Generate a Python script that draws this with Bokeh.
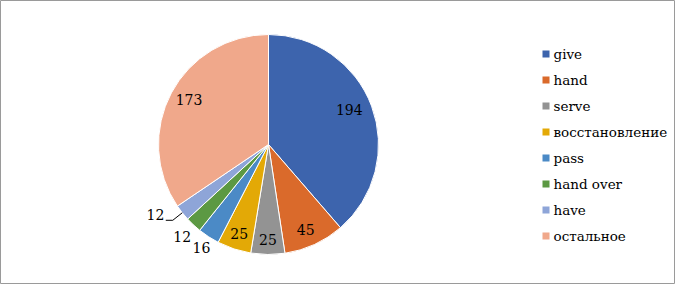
import math
from bokeh.plotting import figure
from bokeh.models import Range1d, ColumnDataSource
from bokeh.core.properties import value
from bokeh.embed import file_html
from bokeh.resources import INLINE

categories = ["give", "hand", "serve", "восстановление", "pass", "hand over", "have", "остальное"]
counts = [194, 45, 25, 25, 16, 12, 12, 173]
colors = ["#3D64AD", "#DA6A2B", "#939393", "#E3A906", "#4B8AC6", "#5C9943", "#8EA5D8", "#F0A88B"]

# label layout (style): radius factor and angle offset (degrees)
label_rf = [0.80, 0.84, 0.86, 0.85, 1.12, 1.15, 1.21, 0.83]
label_dang = [-3, 1, 0, 0, 0, 0, 6.5, 1.5]
leader = [False, False, False, False, False, False, True, False]

FONT = value("DejaVu Serif")

W, H = 675, 284
cx, cy = 268, H - 144
R = 110

p = figure(width=W, height=H, output_backend="svg", toolbar_location=None,
           x_range=Range1d(0, W), y_range=Range1d(0, H), min_border=0)
p.axis.visible = False
p.grid.visible = False
p.outline_line_color = "#9A9A9A"
p.outline_line_width = 1
p.background_fill_color = "white"
p.border_fill_color = "white"

total = sum(counts)
starts, ends, mids = [], [], []
acc = 0
for c in counts:
    a0 = acc / total * 2 * math.pi
    acc += c
    a1 = acc / total * 2 * math.pi
    starts.append(math.pi / 2 - a0)
    ends.append(math.pi / 2 - a1)
    mids.append((a0 + a1) / 2)

src = ColumnDataSource(dict(start=starts, end=ends, color=colors))
p.wedge(x=cx, y=cy, radius=R, radius_units="screen", start_angle="start", end_angle="end",
        direction="clock", fill_color="color", line_color="white", line_width=1, source=src)

lx, ly, lt = [], [], []
for i, c in enumerate(counts):
    th = mids[i] + math.radians(label_dang[i])
    r = R * label_rf[i]
    lx.append(cx + r * math.sin(th))
    ly.append(cy + r * math.cos(th))
    lt.append(str(c))
    if leader[i]:
        m = mids[i]
        ex, ey = cx + R * math.sin(m), cy + R * math.cos(m)
        kx, ky = cx + 1.11 * R * math.sin(m), cy + 1.11 * R * math.cos(m)
        p.line([ex, kx, kx - 7], [ey, ky, ky], line_color="#000000", line_width=1)

p.text(x=lx, y=ly, text=lt, text_align="center", text_baseline="middle",
       text_font=FONT, text_font_size="14px", text_color="#000000")

# legend
sq_x = 545.5
ys = [H - (53.5 + 26 * i) for i in range(len(categories))]
p.rect(x=[sq_x] * len(categories), y=ys, width=7, height=7, width_units="screen", height_units="screen",
       fill_color=colors, line_color=None)
p.text(x=[553] * len(categories), y=[y + 0.5 for y in ys], text=categories, text_align="left", text_baseline="middle",
       text_font=FONT, text_font_size="13.5px", text_color="#000000")

open("out.html", "w").write(file_html(p, INLINE))
